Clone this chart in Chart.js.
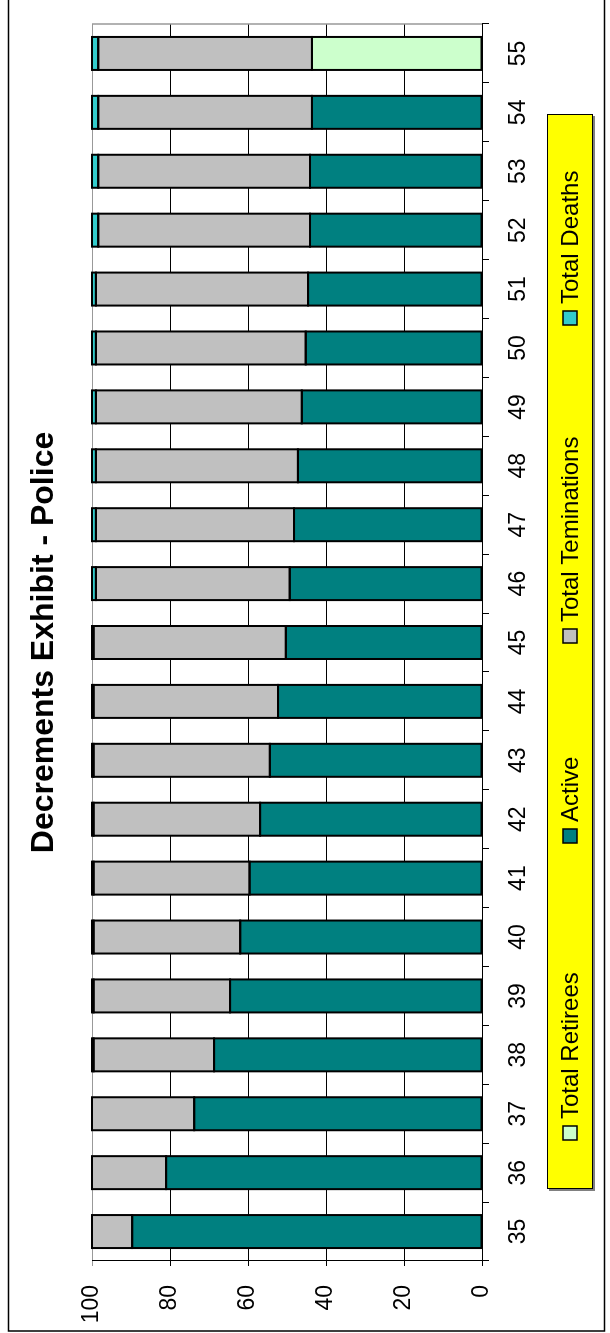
<!DOCTYPE html>
<html>
<head>
<meta charset="utf-8">
<script src="https://cdn.jsdelivr.net/npm/chart.js@4.4.1/dist/chart.umd.min.js"></script>
<style>
    html, body { margin: 0; padding: 0; background: #fff; overflow: hidden; }
    /* chart is drawn landscape and turned a quarter left, like the source picture */
    #wrap {
        position: absolute; left: 0; top: 0;
        width: 1333px; height: 610px;
        transform-origin: 0 0;
        transform: translateY(1333px) rotate(-90deg);
    }
</style>
</head>
<body>
<div id="wrap"><canvas id="chart" width="1333" height="610"></canvas></div>
<script>
// Ages on the category axis
const ages = ["35", "36", "37", "38", "39", "40", "41", "42", "43", "44", "45",
              "46", "47", "48", "49", "50", "51", "52", "53", "54", "55"];

// Percent of the starting group
const retirees = [null, null, null, null, null, null, null, null, null, null, null,
                  null, null, null, null, null, null, null, null, null, 43.6];
const active = [89.7, 81.0, 73.8, 68.7, 64.6, 62.0, 59.6, 56.9, 54.4, 52.3, 50.3,
                49.3, 48.2, 47.2, 46.2, 45.2, 44.6, 44.1, 44.1, 43.6, null];
const terminations = [10.3, 19.0, 26.2, 30.9, 35.0, 37.6, 40.0, 42.7, 45.2, 47.3, 49.3,
                      49.7, 50.8, 51.8, 52.8, 53.8, 54.4, 54.3, 54.3, 54.8, 54.8];
const deaths = [null, null, null, 0.4, 0.4, 0.4, 0.4, 0.4, 0.4, 0.4, 0.4,
                1.0, 1.0, 1.0, 1.0, 1.0, 1.0, 1.6, 1.6, 1.6, 1.6];

const seriesNames = ["Total Retirees", "Active", "Total Teminations", "Total Deaths"];
const valueTicks = [0, 20, 40, 60, 80, 100];

const FONT = "'Liberation Sans', Arial, sans-serif";

// Black outline on every bar segment, stroked on the edge (not inside) like Excel does
const barOutline = {
    id: "barOutline",
    afterDatasetsDraw(chart) {
        const ctx = chart.ctx;
        ctx.save();
        ctx.strokeStyle = "#000";
        ctx.lineWidth = 2;
        chart.data.datasets.forEach((ds, i) => {
            chart.getDatasetMeta(i).data.forEach((bar, j) => {
                if (ds.data[j] == null) return;
                const p = bar.getProps(["x", "y", "base", "width"], true);
                const top = Math.min(p.y, p.base);
                const h = Math.abs(p.base - p.y);
                ctx.strokeRect(p.x - p.width / 2, top, p.width, h);
            });
        });
        ctx.restore();
    }
};

// Yellow legend box under the plot
const legendBox = {
    id: "legendBox",
    afterDraw(chart) {
        const ctx = chart.ctx;
        const box = { left: 144, top: 547, width: 1075, height: 46 };
        const itemX = [193, 490, 690, 1008]; // where Excel put each entry
        ctx.save();
        ctx.fillStyle = "#808080";
        ctx.fillRect(box.left - 2, box.top + 2, box.width, box.height);
        ctx.fillStyle = "#ffff00";
        ctx.fillRect(box.left, box.top, box.width, box.height);
        ctx.strokeStyle = "#000";
        ctx.lineWidth = 1;
        ctx.strokeRect(box.left + 0.5, box.top + 0.5, box.width - 1, box.height - 1);

        ctx.font = "24px " + FONT;
        ctx.textBaseline = "middle";
        const cy = box.top + box.height / 2;
        chart.data.datasets.forEach((ds, i) => {
            const x = itemX[i];
            ctx.fillStyle = ds.backgroundColor;
            ctx.fillRect(x, cy - 7, 14, 14);
            ctx.strokeStyle = "#000";
            ctx.lineWidth = 1.5;
            ctx.strokeRect(x, cy - 7, 14, 14);
            ctx.fillStyle = "#000";
            ctx.fillText(ds.label, x + 21, cy + 1);
        });
        ctx.restore();
    }
};

// Outer frame and the grey right edge of the plot
const frame = {
    id: "frame",
    beforeDatasetsDraw(chart) {
        const a = chart.chartArea;
        const ctx = chart.ctx;
        ctx.save();
        ctx.strokeStyle = "#999";
        ctx.lineWidth = 1.5;
        ctx.beginPath();
        ctx.moveTo(a.right, a.top);
        ctx.lineTo(a.right, a.bottom);
        ctx.stroke();
        ctx.restore();
    },
    afterDraw(chart) {
        const ctx = chart.ctx;
        ctx.save();
        ctx.strokeStyle = "#000";
        ctx.lineWidth = 1.5;
        ctx.strokeRect(2, 8.5, 1340, 596);
        ctx.restore();
    }
};

const common = { borderWidth: 0 };

new Chart(document.getElementById("chart").getContext("2d"), {
    type: "bar",
    data: {
        labels: ages,
        datasets: [
            { label: seriesNames[0], data: retirees, backgroundColor: "#ccffcc", ...common },
            { label: seriesNames[1], data: active, backgroundColor: "#008080", ...common },
            { label: seriesNames[2], data: terminations, backgroundColor: "#c0c0c0", ...common },
            { label: seriesNames[3], data: deaths, backgroundColor: "#33cccc", ...common }
        ]
    },
    options: {
        responsive: false,
        animation: false,
        devicePixelRatio: 1,
        layout: { padding: { top: 5, left: 0, right: 24, bottom: 64 } },
        datasets: { bar: { categoryPercentage: 1, barPercentage: 0.56 } },
        plugins: {
            legend: { display: false },
            tooltip: { enabled: false },
            title: {
                display: true,
                text: "Decrements Exhibit - Police",
                fullSize: false,
                color: "#000",
                font: { family: FONT, size: 32, weight: "bold", lineHeight: 1.2 },
                padding: { top: 20, bottom: 28.6 }
            }
        },
        scales: {
            x: {
                stacked: true,
                grid: { drawOnChartArea: false, tickLength: 7, color: "#000", offset: true },
                border: { color: "#000", width: 1 },
                ticks: { color: "#000", padding: 16, maxRotation: 0, font: { family: FONT, size: 23 } },
                afterFit(scale) { scale.height = 64; }
            },
            y: {
                stacked: true,
                min: 0,
                max: 100,
                afterBuildTicks(scale) { scale.ticks = valueTicks.map(v => ({ value: v })); },
                grid: {
                    tickLength: 5,
                    color: c => (c.tick && c.tick.value === 100) ? "#999" : "#000"
                },
                border: { color: "#000", width: 1 },
                ticks: { color: "#000", padding: 19, font: { family: FONT, size: 23 } },
                afterFit(scale) { scale.width = 72; }
            }
        }
    },
    plugins: [frame, barOutline, legendBox]
});
</script>
</body>
</html>
